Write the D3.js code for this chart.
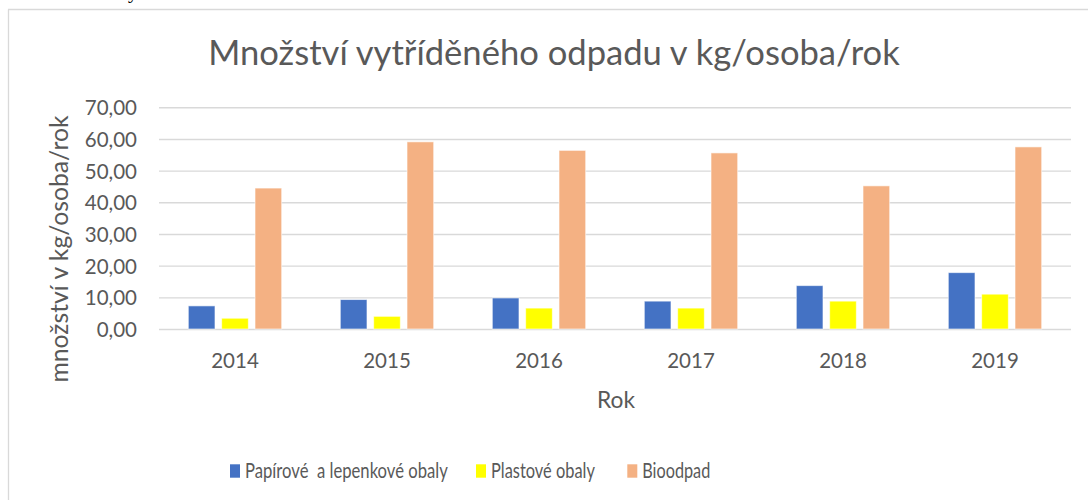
<!DOCTYPE html>
<html>
<head>
<meta charset="utf-8">
<script src="https://cdn.jsdelivr.net/npm/d3@7"></script>
<style>
  html, body { margin: 0; padding: 0; background: #fff; }
  svg { display: block; }
  text { font-family: Lato, "Open Sans", sans-serif; fill: #595959; }
</style>
</head>
<body>
<svg id="chart" width="1088" height="500"></svg>
<script>
// ---- data ----
const years = ["2014", "2015", "2016", "2017", "2018", "2019"];
const seriesNames = ["Papírové  a lepenkové obaly", "Plastové obaly", "Bioodpad"];
const paper = [7.3, 9.3, 9.8, 8.8, 13.7, 17.8];
const plastic = [3.4, 4.0, 6.6, 6.6, 8.8, 11.0];
const bio = [44.5, 59.1, 56.4, 55.6, 45.2, 57.5];
const yTicks = [0, 10, 20, 30, 40, 50, 60, 70];
const colors = ["#4472C4", "#FFFF00", "#F4B183"];
const titleText = "Množství vytříděného odpadu v kg/osoba/rok";
const yTitle = "množství v kg/osoba/rok";
const xTitle = "Rok";

const seriesValues = [paper, plastic, bio];

const svg = d3.select("#chart");

function fitWidth(sel, target) {
  const w = sel.node().getComputedTextLength();
  const fs = parseFloat(sel.attr("font-size"));
  sel.attr("font-size", fs * target / w);
}

// chart border (only top and left visible)
svg.append("line").attr("x1", 8.5).attr("x2", 8.5).attr("y1", 9.5).attr("y2", 500)
  .attr("stroke", "#d9d9d9").attr("stroke-width", 1.3);
svg.append("line").attr("x1", 8).attr("x2", 1088).attr("y1", 9.5).attr("y2", 9.5)
  .attr("stroke", "#d9d9d9").attr("stroke-width", 1.3);

// clipped text fragment at top (as in the reference)
svg.append("text").attr("x", 118).attr("y", -2).attr("font-size", 20)
  .style("font-family", "'Liberation Serif', serif").style("fill", "#000").text("ny");

const plotLeft = 159, plotRight = 1071, plotTop = 107.3, plotBottom = 329;

const x = d3.scaleBand().domain(years).range([plotLeft, plotRight]).padding(0);
const inner = d3.scaleBand().domain(d3.range(3))
  .range([29.3, x.bandwidth() - 29.3]).paddingInner(0.2).paddingOuter(0);
const y = d3.scaleLinear().domain([0, 70]).range([plotBottom, plotTop]);

// gridlines + y labels
const yAxis = d3.axisLeft(y).tickValues(yTicks)
  .tickSize(-(plotRight - plotLeft))
  .tickPadding(22)
  .tickFormat(d => d3.format(".2f")(d).replace(".", ","));
const gy = svg.append("g").attr("transform", `translate(${plotLeft},0)`).call(yAxis);
gy.select(".domain").remove();
gy.selectAll(".tick line").attr("stroke", "#d9d9d9").attr("stroke-width", 1.4);
gy.selectAll(".tick text").attr("font-size", 20.5).style("fill", "#595959")
  .attr("font-family", "Lato, sans-serif").attr("dy", "0.36em");

// bars
const groups = svg.append("g").selectAll("g").data(years).join("g")
  .attr("transform", d => `translate(${x(d)},0)`);
groups.selectAll("rect").data((d, i) => seriesValues.map((s, k) => ({ k, v: s[i] })))
  .join("rect")
  .attr("x", d => inner(d.k))
  .attr("width", inner.bandwidth())
  .attr("y", d => y(d.v))
  .attr("height", d => y(0) - y(d.v))
  .attr("fill", d => colors[d.k])
  .attr("stroke", "#fff").attr("stroke-opacity", 0.6).attr("stroke-width", 1);

// x axis labels
const xAxis = d3.axisBottom(x).tickSize(0).tickPadding(0);
const gx = svg.append("g").attr("transform", `translate(0,${plotBottom})`).call(xAxis);
gx.select(".domain").remove();
gx.selectAll(".tick text").attr("font-size", 20.5).style("fill", "#595959")
  .attr("font-family", "Lato, sans-serif").attr("y", 39).attr("dy", 0);

// title
const t = svg.append("text").attr("x", 554).attr("y", 65).attr("text-anchor", "middle")
  .attr("font-size", 32).text(titleText);
fitWidth(t, 692);

// x title
const xt = svg.append("text").attr("x", (plotLeft + plotRight) / 2 + 1).attr("y", 408)
  .attr("text-anchor", "middle").attr("font-size", 22).text(xTitle);
fitWidth(xt, 38);

// y title
const yt = svg.append("text").attr("transform", "translate(68,249) rotate(-90)")
  .attr("text-anchor", "middle").attr("font-size", 22).text(yTitle);
fitWidth(yt, 267);

// legend
const legendX = [230, 476, 627.3];
const legendW = [203, 104, 68];
const lg = svg.append("g").selectAll("g").data(seriesNames).join("g");
lg.append("rect").attr("x", (d, i) => legendX[i]).attr("y", 464.3)
  .attr("width", 10).attr("height", 13.4).attr("fill", (d, i) => colors[i]);
lg.append("text")
  .attr("font-size", 21.5).attr("xml:space", "preserve").style("white-space", "pre")
  .text(d => d)
  .each(function (d, i) {
    const w = this.getComputedTextLength();
    const sx = legendW[i] / w;
    d3.select(this).attr("transform", `translate(${legendX[i] + 15},477.5) scale(${sx},1)`);
  });
</script>
</body>
</html>
